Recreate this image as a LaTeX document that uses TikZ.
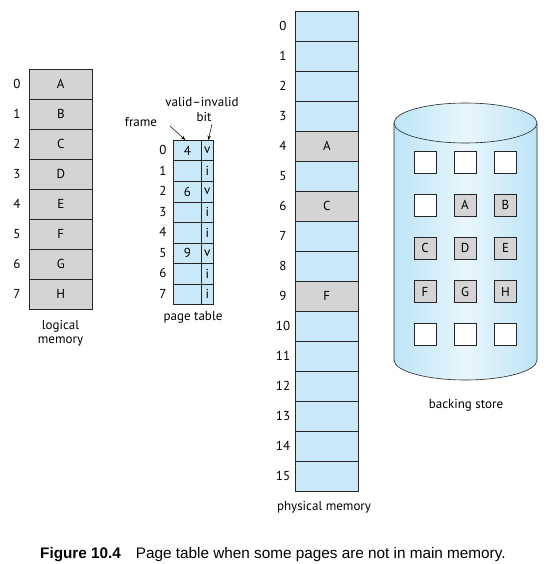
\documentclass[tikz,border=0pt]{standalone}
\usepackage{fontspec}
\setmainfont{PT Sans}
\newfontfamily\capfont{Liberation Sans}
\usetikzlibrary{arrows.meta}
\definecolor{memblue}{HTML}{C9E9F8}
\definecolor{memgray}{HTML}{D4D4D4}
\definecolor{cylblue}{HTML}{BCE4F6}
\definecolor{cyllight}{HTML}{E9F6FC}
\newcommand{\dfont}{\fontsize{13}{15}\selectfont}
\tikzset{
  lbl/.style={font=\dfont, inner sep=0pt},
  cellA/.style={draw=black!85, line width=0.6pt, minimum width=63pt, minimum height=30pt, inner sep=0pt, anchor=north west, font=\dfont},
  ptf/.style={draw=black!85, line width=0.6pt, fill=memblue, minimum width=28pt, minimum height=20.5pt, inner sep=0pt, anchor=north west, font=\dfont},
  ptb/.style={ptf, minimum width=12pt},
  sq/.style={draw=black!85, line width=0.6pt, minimum width=22pt, minimum height=22pt, inner sep=0pt, font=\dfont},
  arr/.style={-{Stealth[length=4.5pt,width=3.5pt]}, line width=0.5pt}
}
\begin{document}
\begin{tikzpicture}[x=1pt,y=-1pt]
\useasboundingbox (0,0) rectangle (555,564);
% logical memory
\foreach \l [count=\i from 0] in {A,B,C,D,E,F,G,H}{
  \node[cellA, fill=memgray] (lm\i) at (29,{69+30*\i}) {\l};
  \node[lbl] (lmn\i) at (17,{84+30*\i}) {\i};
}
\node[lbl, align=center] (lmcap) at (60.5,333) {logical\\[-1pt]memory};
% page table
\foreach \f/\b [count=\i from 0] in {4/v,/i,6/v,/i,/i,9/v,/i,/i}{
  \node[ptf] (ptf\i) at (173,{140+20.5*\i}) {\f};
  \node[ptb] (ptb\i) at (201,{140+20.5*\i}) {\b};
  \node[lbl] (ptn\i) at (163,{150.25+20.5*\i}) {\i};
}
\node[lbl] (ptcap) at (193,317) {page table};
\node[lbl] (frame) at (141,122) {frame};
\node[lbl] (vib) at (202,102) {valid–invalid};
\node[lbl] (bit) at (204,117) {bit};
\coordinate (fa) at (170,126);
\coordinate (ba) at (212,124);
\draw[arr] (fa) -- ([xshift=-2pt]ptf0.north);
\draw[arr] (ba) -- ([xshift=1pt]ptb0.north);
% physical memory
\foreach \i in {0,...,15}{
  \node[cellA, fill=memblue] (pm\i) at (295,{11+30*\i}) {};
  \node[lbl] (pmn\i) at (283,{26+30*\i}) {\i};
}
\node[cellA, fill=memgray] (pA) at (295,131) {A};
\node[cellA, fill=memgray] (pC) at (295,191) {C};
\node[cellA, fill=memgray] (pF) at (295,281) {F};
\node[lbl] (pmcap) at (324,507) {physical memory};
% backing store cylinder
\shade[left color=cylblue, right color=cylblue, middle color=cyllight, draw=black!85, line width=0.6pt]
  (394,123) -- (394,360) arc[start angle=180, end angle=0, x radius=71.5, y radius=20] -- (537,123) -- cycle;
\shade[left color=cylblue, right color=cylblue, middle color=cyllight, draw=black!85, line width=0.6pt]
  (465.5,123) ellipse[x radius=71.5, y radius=20];
\foreach \r/\a/\b/\c [count=\j from 0] in {162.5/-/-/-, 205/-/A/B, 248/C/D/E, 291.5/F/G/H, 334/-/-/-}{
  \foreach \t/\x [count=\k from 0] in {\a/425, \b/465, \c/505.5}{
    \if-\t
      \node[sq, fill=white] (bs\j\k) at (\x,\r) {};
    \else
      \node[sq, fill=memgray] (bs\j\k) at (\x,\r) {\t};
    \fi
  }
}
\node[lbl] (bscap) at (466,405) {backing store};
% caption
\node[anchor=base west, inner sep=0pt, font=\capfont\fontsize{15.3}{17}\selectfont] (cap) at (40,558)
  {\textbf{Figure 10.4}\hspace{15pt}Page table when some pages are not in main memory.};
\end{tikzpicture}
\end{document}
